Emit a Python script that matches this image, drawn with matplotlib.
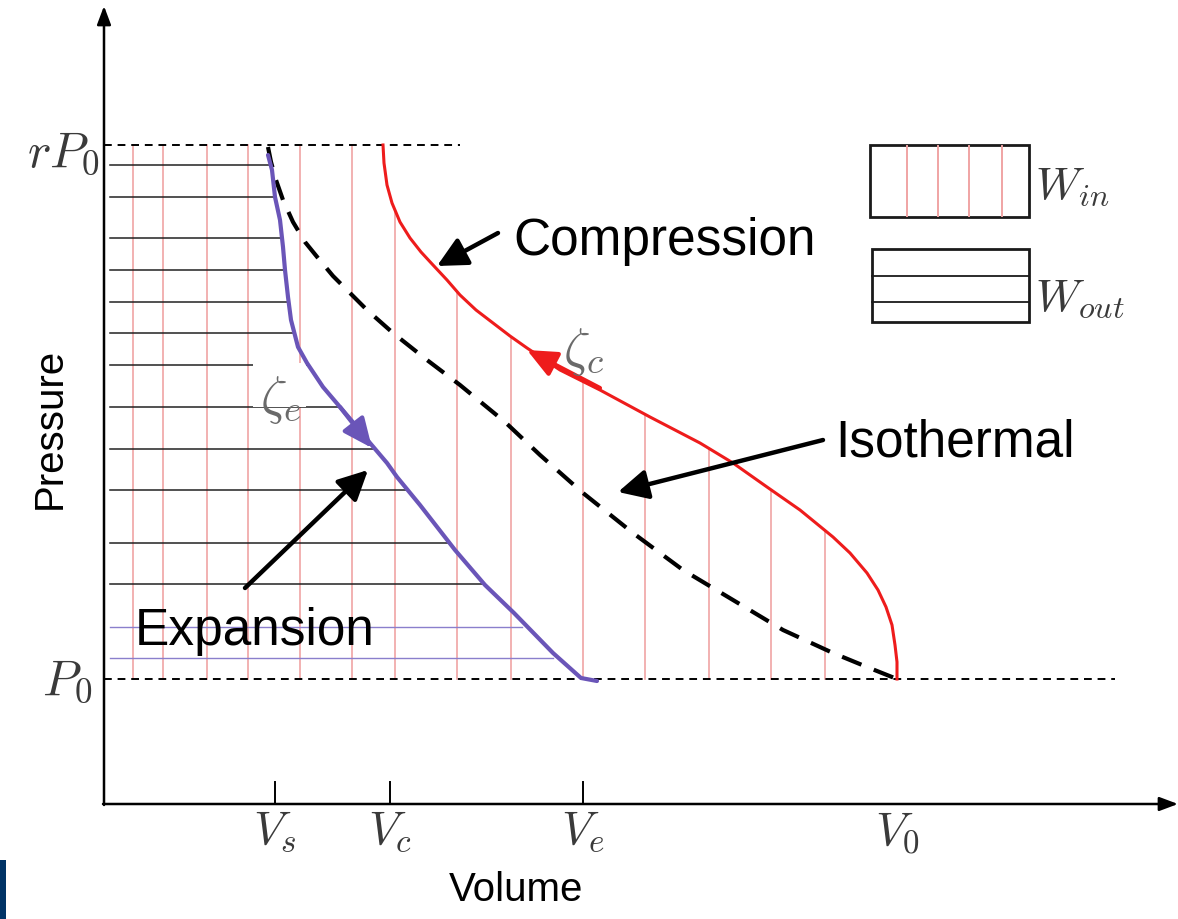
import numpy as np
import matplotlib
matplotlib.use("Agg")
import matplotlib.pyplot as plt
from matplotlib.patches import Rectangle

plt.rcParams["font.family"] = ["Liberation Sans", "DejaVu Sans"]
plt.rcParams["mathtext.fontset"] = "cm"

# schematic units (arbitrary volume / pressure units)
V_s, V_c, V_e, V_0 = 171, 286, 479, 793
P_0, rP_0 = 125, 659

# compression curve (red), from rP0 down to P0
comp_v = [279, 280, 283, 288, 296, 306, 317, 329, 343, 356, 372, 389, 406, 423,
          456, 496, 546, 596, 629, 663, 696, 729, 746, 763, 774, 782, 788, 791,
          793, 793]
comp_p = [659, 641, 619, 601, 582, 566, 552, 539, 524, 509, 494, 481, 468, 456,
          434, 414, 387, 361, 341, 317, 294, 267, 251, 231, 214, 197, 179, 159,
          142, 125]

# isothermal (dashed)
iso_v = [164, 167, 172, 179, 189, 201, 214, 229, 246, 263, 289, 323, 356, 401,
         436, 479, 529, 579, 629, 679, 729, 763, 793]
iso_p = [657, 642, 624, 604, 582, 562, 546, 528, 511, 494, 471, 444, 419, 382,
         349, 311, 271, 234, 204, 174, 151, 137, 125]

# expansion curve (blue)
exp_v = [164, 168, 171, 176, 179, 181, 184, 187, 194, 203, 219, 236, 253, 266,
         283, 293, 316, 351, 381, 410, 449, 477, 493]
exp_p = [649, 634, 607, 584, 557, 534, 507, 484, 457, 441, 417, 397, 377, 361,
         341, 327, 299, 254, 219, 191, 151, 126, 123]

# hatching of work areas
win_x = [29, 59, 103, 144, 196, 248, 291, 353, 407, 479, 541, 605, 667, 721]
wout_y = [639, 607, 566, 534, 502, 471, 439, 397, 355, 314, 261, 220]
wout_y_light = [177, 146]

tick_v = [V_s, V_c, V_e]
tick_pos = [V_s, V_c, V_e, V_0]
tick_labels = [r"$V_s$", r"$V_c$", r"$V_e$", r"$V_0$"]

RED = "#ee1c1c"
BLUE = "#6a55b8"
PINK = "#f0a4a4"
GREY = "#3a3a3a"

fig = plt.figure(figsize=(11.78, 9.19), dpi=100)
ax = fig.add_axes([0, 0, 1, 1])
ax.set_xlim(-104, 1074)
ax.set_ylim(-115, 804)
ax.axis("off")

# W_in hatching: vertical pink lines from P0 up to compression curve / rP0
for x in win_x:
    top = np.interp(x, comp_v, comp_p)
    ax.plot([x, x], [P_0, top], color=PINK, lw=1.2, zorder=1)

# W_out hatching: horizontal lines from the axis to the expansion curve
exp_v_r = exp_v[::-1]
exp_p_r = exp_p[::-1]
for y in wout_y:
    right = np.interp(y, exp_p_r, exp_v_r)
    ax.plot([6, right], [y, y], color="#222222", lw=1.1, zorder=1)
for y in wout_y_light:
    right = np.interp(y, exp_p_r, exp_v_r) - 6
    ax.plot([6, right], [y, y], color="#8a7fcc", lw=1.0, zorder=1)

# white patch behind zeta_e
ax.add_patch(Rectangle((149, 397), 53, 44, facecolor="white", edgecolor="none", zorder=2))

# reference pressure lines
ax.plot([0, 356], [rP_0, rP_0], color="black", lw=1.4, ls=(0, (4, 3)), zorder=2)
ax.plot([0, 1011], [P_0, P_0], color="black", lw=1.4, ls=(0, (4, 3)), zorder=2)

# curves
ax.plot(iso_v, iso_p, color="black", lw=3, ls=(0, (5, 3.2)), zorder=3)
ax.plot(comp_v, comp_p, color=RED, lw=2.2, zorder=4)
ax.plot(exp_v, exp_p, color=BLUE, lw=3, solid_capstyle="round", zorder=4)

# direction arrows on the curves
ax.annotate("", xy=(423, 454), xytext=(496, 416),
            arrowprops=dict(arrowstyle="-|>,head_length=0.9,head_width=0.4",
                            color=RED, lw=3, mutation_scale=20, shrinkA=0, shrinkB=0),
            zorder=5)
ax.annotate("", xy=(268, 356), xytext=(236, 397),
            arrowprops=dict(arrowstyle="-|>,head_length=0.9,head_width=0.4",
                            color=BLUE, lw=3, mutation_scale=20, shrinkA=0, shrinkB=0),
            zorder=5)

# axes
ax.annotate("", xy=(0, 798), xytext=(0, -1),
            arrowprops=dict(arrowstyle="-|>,head_length=0.8,head_width=0.3",
                            color="black", lw=1.8, mutation_scale=14, shrinkA=0, shrinkB=0))
ax.annotate("", xy=(1074, 0), xytext=(-1, 0),
            arrowprops=dict(arrowstyle="-|>,head_length=0.8,head_width=0.3",
                            color="black", lw=1.8, mutation_scale=14, shrinkA=0, shrinkB=0))
for v in tick_v:
    ax.plot([v, v], [0, 22], color="black", lw=1.4)
for v, lab in zip(tick_pos, tick_labels):
    ax.text(v, -6, lab, ha="center", va="top", fontsize=34, color=GREY)

ax.text(-4, 650, r"$rP_0$", ha="right", va="center", fontsize=36, color=GREY)
ax.text(-12, 122, r"$P_0$", ha="right", va="center", fontsize=36, color=GREY)

ax.text(412, -86, "Volume", ha="center", va="center", fontsize=29)
ax.text(-54, 376, "Pressure", ha="center", va="center", fontsize=29, rotation=90)

# labels with pointer arrows
arrow_kw = dict(arrowstyle="-|>,head_length=0.9,head_width=0.45",
                color="black", lw=3.2, mutation_scale=20, shrinkA=0, shrinkB=0)
ax.text(409, 563, "Compression", ha="left", va="center", fontsize=37)
ax.annotate("", xy=(333, 538), xytext=(394, 571), arrowprops=arrow_kw, zorder=6)
ax.text(731, 361, "Isothermal", ha="left", va="center", fontsize=37)
ax.annotate("", xy=(514, 312), xytext=(719, 364), arrowprops=arrow_kw, zorder=6)
ax.text(31, 173, "Expansion", ha="left", va="center", fontsize=37)
ax.annotate("", xy=(264, 334), xytext=(141, 216), arrowprops=arrow_kw, zorder=6)

ax.text(176, 404, r"$\zeta_e$", ha="center", va="center", fontsize=38, color="#6a6a6a", zorder=6)
ax.text(479, 452, r"$\zeta_c$", ha="center", va="center", fontsize=38, color="#6a6a6a", zorder=6)

# legend boxes
ax.add_patch(Rectangle((766, 587), 159, 72, facecolor="white", edgecolor="#1a1a1a", lw=2, zorder=3))
for x in [803, 834, 865, 898]:
    ax.plot([x, x], [588, 658], color=PINK, lw=1.4, zorder=4)
ax.add_patch(Rectangle((768, 482), 157, 73, facecolor="white", edgecolor="#1a1a1a", lw=2, zorder=3))
for y in [528, 502]:
    ax.plot([768, 925], [y, y], color="#1a1a1a", lw=1.3, zorder=4)
ax.text(931, 617, r"$W_{in}$", ha="left", va="center", fontsize=33, color=GREY)
ax.text(931, 505, r"$W_{out}$", ha="left", va="center", fontsize=33, color=GREY)

# dark strip at the bottom-left edge
ax.add_patch(Rectangle((-104, -115), 6, 59, facecolor="#003366", edgecolor="none"))

fig.savefig("out.png", dpi=100)
